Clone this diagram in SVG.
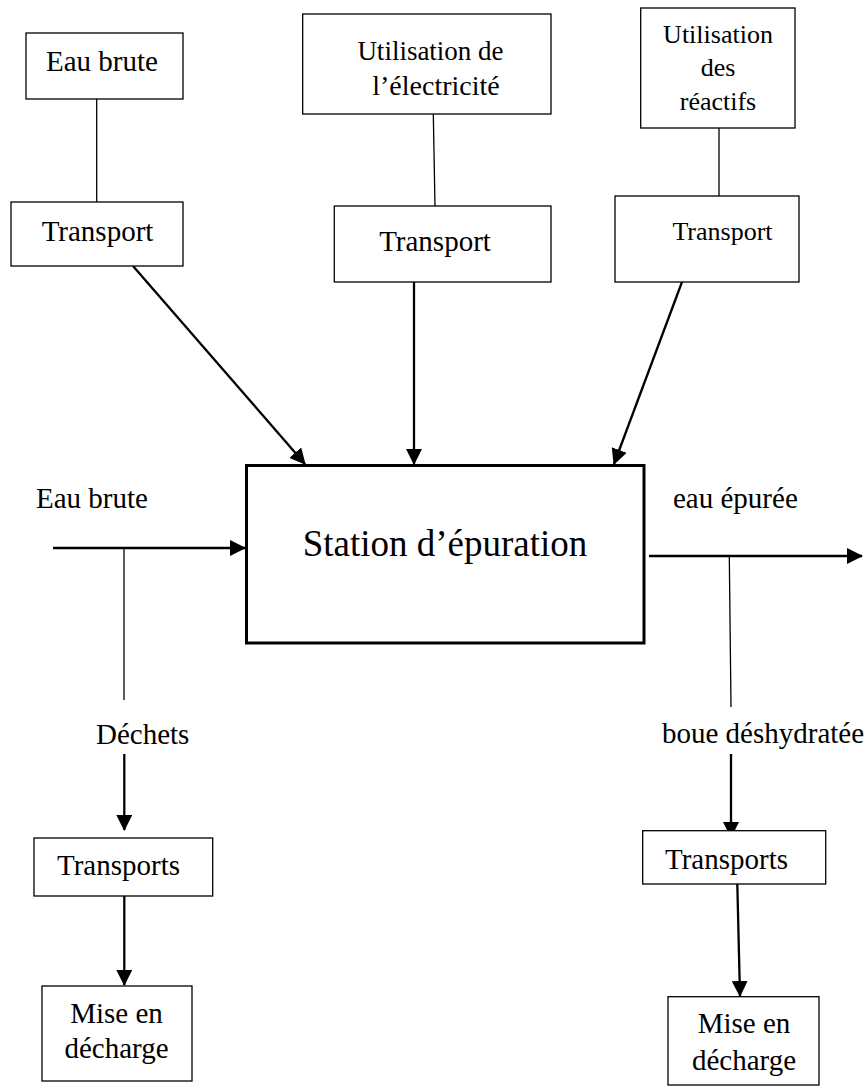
<svg xmlns="http://www.w3.org/2000/svg" width="868" height="1088" viewBox="0 0 868 1088">
<style>
.box{fill:#fff;stroke:#000;stroke-width:1.3}
.main{fill:#fff;stroke:#000;stroke-width:3}
text{font-family:"Liberation Serif","Times New Roman",serif;fill:#000;font-size:29px}
.mid{text-anchor:middle}
.thin{stroke:#000;stroke-width:1.3;fill:none}
.arr{stroke:#000;stroke-width:2.3;fill:none;marker-end:url(#ah)}
</style>
<defs>
<marker id="ah" markerUnits="userSpaceOnUse" markerWidth="16" markerHeight="16" viewBox="0 0 16 16" refX="15" refY="8" orient="auto">
<path d="M0,0 L16,8 L0,16 z" fill="#000"/>
</marker>
</defs>
<rect width="868" height="1088" fill="#fff"/>
<g id="connectors">
<line class="thin" x1="96.7" y1="99" x2="96.7" y2="205"/>
<line class="thin" x1="433.3" y1="114" x2="435" y2="206"/>
<line class="thin" x1="719" y1="128" x2="719" y2="196"/>
<line class="arr" x1="133" y1="266" x2="305" y2="464"/>
<line class="arr" x1="414" y1="282" x2="414" y2="464"/>
<line class="arr" x1="682" y1="282" x2="614" y2="464"/>
<line class="arr" x1="53" y1="548" x2="245" y2="548"/>
<line class="thin" x1="124" y1="548" x2="124" y2="700"/>
<line class="arr" x1="649" y1="556" x2="862" y2="556"/>
<line class="thin" x1="729.3" y1="556" x2="731" y2="707"/>
<line class="arr" x1="124.3" y1="754" x2="124.3" y2="830"/>
<line class="arr" x1="124.3" y1="896" x2="124.3" y2="985"/>
<line class="arr" x1="731" y1="754" x2="731" y2="837"/>
<line class="arr" x1="737.3" y1="884" x2="740" y2="996"/>
</g>
<g id="eau-brute-top">
<rect class="box" x="26" y="33" width="157" height="66"/>
<text class="mid" x="102" y="71">Eau brute</text>
</g>
<g id="transport-1">
<rect class="box" x="11" y="202" width="172" height="64"/>
<text class="mid" x="97.5" y="241">Transport</text>
</g>
<g id="electricite">
<rect class="box" x="302.7" y="14" width="248.3" height="100"/>
<text class="mid" x="430.5" y="60" style="font-size:27px">Utilisation de</text>
<text class="mid" x="436" y="95" style="font-size:28px">l’électricité</text>
</g>
<g id="transport-2">
<rect class="box" x="334.3" y="206" width="216.7" height="76"/>
<text class="mid" x="435" y="251">Transport</text>
</g>
<g id="reactifs">
<rect class="box" x="640.7" y="8" width="154.3" height="120"/>
<text class="mid" x="718" y="43" style="font-size:26px">Utilisation</text>
<text class="mid" x="718" y="76" style="font-size:26px">des</text>
<text class="mid" x="718" y="110" style="font-size:26px">réactifs</text>
</g>
<g id="transport-3">
<rect class="box" x="615" y="196" width="184" height="86"/>
<text class="mid" x="722.5" y="240" style="font-size:26px">Transport</text>
</g>
<g id="station">
<rect class="main" x="246.5" y="465.5" width="397.5" height="177.5"/>
<text class="mid" x="445" y="556" style="font-size:37px">Station d’épuration</text>
</g>
<g id="labels">
<text x="36" y="508">Eau brute</text>
<text x="673" y="508">eau épurée</text>
<text x="96" y="744">Déchets</text>
<text x="662" y="743">boue déshydratée</text>
</g>
<g id="transports-left">
<rect class="box" x="34" y="838" width="178.7" height="58"/>
<text x="57" y="875">Transports</text>
</g>
<g id="decharge-left">
<rect class="box" x="42" y="986" width="150" height="95"/>
<text class="mid" x="116.5" y="1023">Mise en</text>
<text class="mid" x="116.5" y="1058">décharge</text>
</g>
<g id="transports-right">
<rect class="box" x="642.7" y="830.7" width="183" height="53.3"/>
<text x="665" y="869">Transports</text>
</g>
<g id="decharge-right">
<rect class="box" x="668" y="996.7" width="151" height="88.3"/>
<text class="mid" x="744" y="1033">Mise en</text>
<text class="mid" x="744" y="1070">décharge</text>
</g>
</svg>
